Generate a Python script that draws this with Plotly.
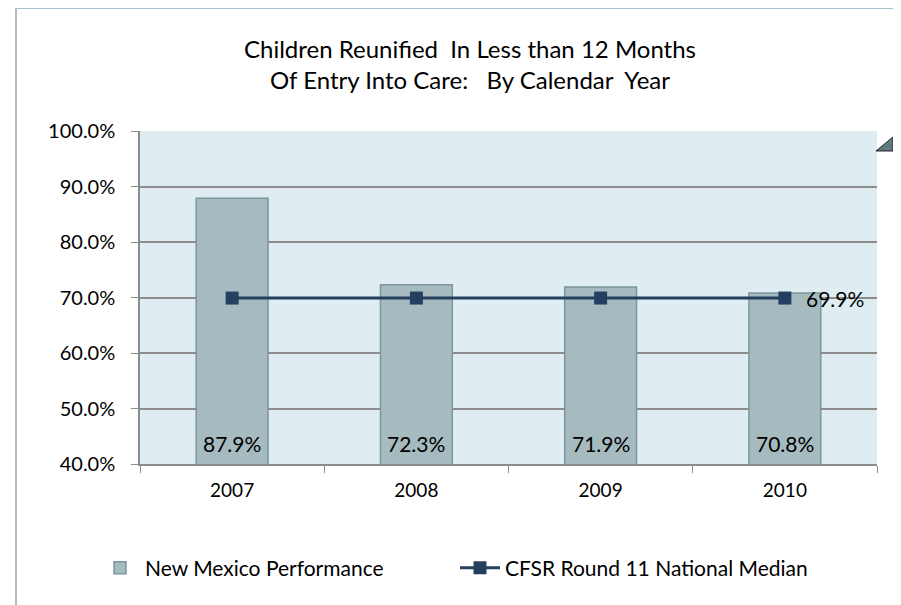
import plotly.graph_objects as go

years = ["2007", "2008", "2009", "2010"]
nm_performance = [87.9, 72.3, 71.9, 70.8]
national_median = [69.9, 69.9, 69.9, 69.9]
y_ticks = [40, 50, 60, 70, 80, 90, 100]

FONT = "Lato, 'Open Sans', sans-serif"

# page has an 8px body margin, so positions are worked out in figure px
L, R, T, B = 132, 32, 123, 149
PW, PH = 901 - L - R, 605 - T - B


def px(x):
    return (x - L) / PW


def py(y):
    return (605 - B - y) / PH


fig = go.Figure()
fig.add_trace(go.Bar(
    x=years, y=nm_performance, name="New Mexico Performance",
    marker=dict(color="#A5BBC0", line=dict(color="#7D959C", width=1.5)),
    width=0.39,
))
fig.add_trace(go.Scatter(
    x=years, y=national_median, name="CFSR Round 11 National Median",
    mode="lines+markers",
    line=dict(color="#243F60", width=3),
    marker=dict(symbol="square", size=13, color="#243F60"),
))

# value labels at the foot of each bar (category axis -> use index)
annotations = [
    dict(x=i, y=40, xref="x", yref="y", text="%.1f%%" % v, showarrow=False,
         yanchor="bottom", yshift=6, font=dict(size=21, color="#000000", family=FONT))
    for i, v in enumerate(nm_performance)
]
annotations.append(dict(
    x=len(years) - 1, y=national_median[-1], xref="x", yref="y",
    text="%.1f%%" % national_median[-1], showarrow=False,
    xanchor="left", xshift=19, font=dict(size=21, color="#000000", family=FONT),
))

fig.update_layout(
    width=901, height=605,
    margin=dict(l=L, r=R, t=T, b=B),
    paper_bgcolor="white", plot_bgcolor="#DFECF1",
    font=dict(family=FONT, size=19, color="#000000"),
    title=dict(
        text="Children Reunified  In Less than 12 Months<br>Of Entry Into Care:   By Calendar  Year",
        x=462 / 901, xanchor="center", y=1 - 50 / 605, yanchor="top",
        font=dict(size=24, family=FONT),
    ),
    showlegend=True,
    legend=dict(orientation="h", x=px(447), xanchor="center", y=py(560), yanchor="middle",
                font=dict(size=21), itemwidth=40, traceorder="normal", entrywidth=305),
    annotations=annotations,
    shapes=[
        dict(type="rect", xref="paper", yref="paper",
             x0=px(8), x1=px(915), y0=py(625), y1=py(0),
             line=dict(color="#A9BFCB", width=2), fillcolor="rgba(0,0,0,0)", layer="below"),
        dict(type="path", xref="paper", yref="paper",
             path="M %f %f L %f %f L %f %f Z" % (
                 px(868), py(143), px(885), py(143), px(885), py(129)),
             line=dict(color="#222222", width=1), fillcolor="#5F7B80"),
    ],
)
fig.update_xaxes(
    type="category",
    showgrid=False, showline=True, linecolor="#8C8C8C", linewidth=1.5,
    ticks="outside", tickson="boundaries", ticklen=7, tickcolor="#8C8C8C",
    ticklabelstandoff=8,
    tickfont=dict(size=19), range=[-0.5, 3.5],
)
fig.update_yaxes(
    range=[40, 100], tickvals=y_ticks, ticktext=["%.1f%%" % t for t in y_ticks],
    showgrid=True, gridcolor="#8C8C8C", gridwidth=1.5,
    showline=True, linecolor="#8C8C8C", linewidth=1.5,
    ticks="outside", ticklen=7, tickcolor="#8C8C8C", ticklabelstandoff=12,
    tickfont=dict(size=20), zeroline=False,
)

fig.write_html("out.html")
